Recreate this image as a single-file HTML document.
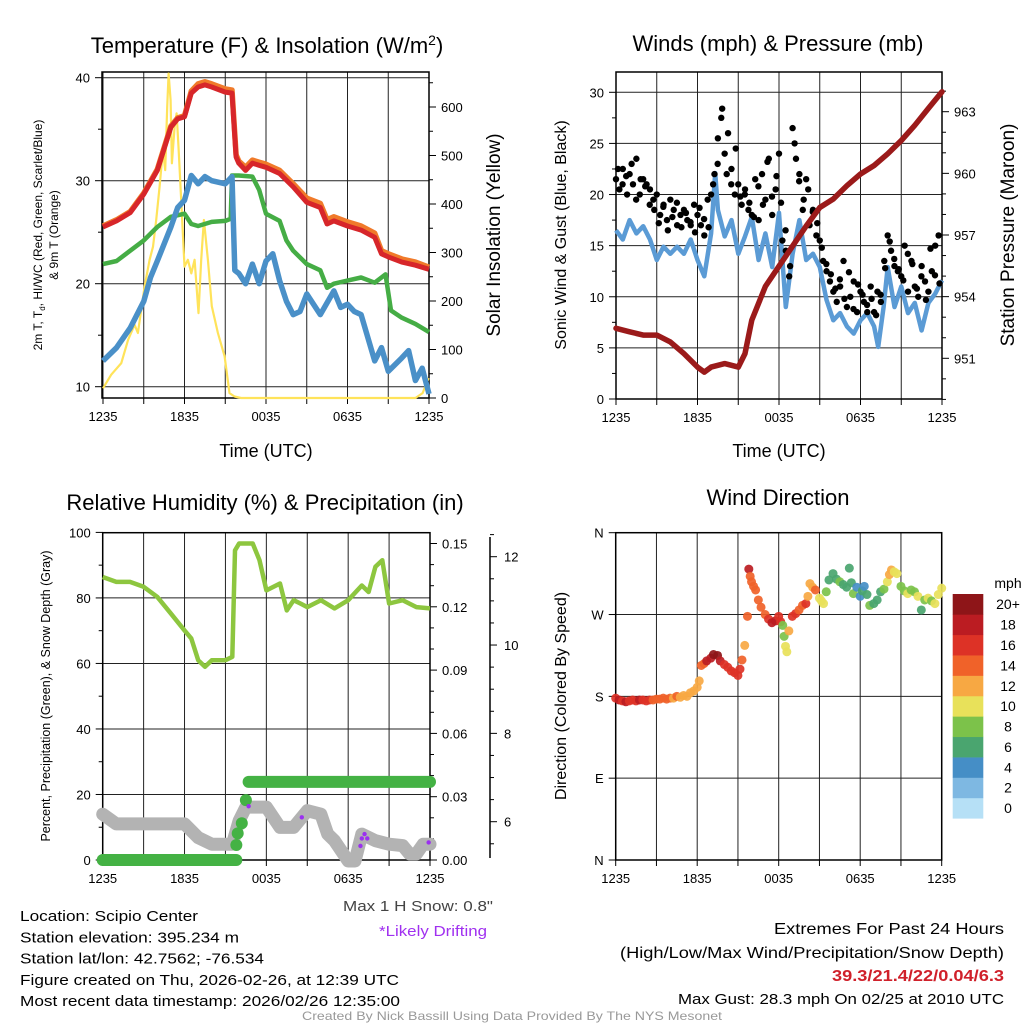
<!DOCTYPE html>
<html><head><meta charset="utf-8"><title>Mesonet Station Summary</title>
<style>
html,body{margin:0;padding:0;background:#fff;}
svg{display:block;font-family:"Liberation Sans",sans-serif;}
</style></head>
<body>
<svg id="chart" width="1024" height="1024" viewBox="0 0 1024 1024" xmlns="http://www.w3.org/2000/svg"></svg>
<script>
// ---------- DATA ----------
const timeLabels = ["1235","1835","0035","0635","1235"];
const tempHours = [0,1,2,3,4,5,5.5,6,6.5,7,7.5,8,9,9.5,9.8,10,10.5,11,11.5,12,13,14,15,16,16.5,17,18,19,20,20.5,21,22,23,24];
const tempRed =   [25.5,26.1,26.9,28.7,31.0,35.2,36.0,36.2,38.5,39.1,39.3,39.1,38.6,38.5,32.3,31.7,31.0,31.7,31.5,31.3,30.7,29.4,27.9,27.4,25.8,26.1,25.6,25.2,24.5,22.9,22.6,22.1,21.8,21.4];
const temp9m =    [25.6,26.2,27.0,28.8,31.1,35.3,36.1,36.3,38.7,39.4,39.6,39.4,38.9,38.8,32.5,31.9,31.3,32.0,31.8,31.6,31.0,29.7,28.3,27.8,26.2,26.5,26.0,25.6,24.9,23.2,22.9,22.4,22.1,21.6];
const dewHours = [0,1,2,3,4,5,6,6.5,7,8,9,9.4,9.5,10,11,11.5,12,13,13.5,14,15,16,16.5,17,18,19,20,20.8,21.2,22,23,24];
const dewGreen = [21.9,22.2,23.2,24.2,25.5,26.5,26.8,25.8,25.6,26.0,26.1,26.3,30.5,30.5,30.4,29.1,26.8,26.1,24.2,23.2,21.9,21.3,19.6,20.0,20.3,20.6,20.1,20.9,17.4,16.7,16.1,15.3];
const wcHours = [0,1,2,3,3.5,4,5,5.5,6,6.5,7,7.5,8,9,9.5,9.7,10,10.5,11,11.5,12,12.5,13,13.5,14,14.5,15,15.5,16,17,17.5,18,18.5,19,20,20.5,21,22,22.5,23,23.5,24];
const wcBlue =  [12.5,13.8,15.7,18.3,20.6,22.2,25.5,27.4,28.1,30.5,29.7,30.4,30.0,29.7,30.4,21.3,21.0,20.0,21.9,20.0,22.2,22.9,20.3,18.3,17.0,17.3,19.0,18.0,17.0,19.3,17.7,18.0,17.3,17.0,12.5,13.8,11.5,12.8,13.5,10.6,11.8,9.3];
const solarHours = [0,0.6,1.35,1.85,2.33,2.57,3.06,3.43,3.68,3.92,4.17,4.41,4.58,4.73,4.83,4.98,5.07,5.27,5.42,5.56,5.76,6.0,6.25,6.5,6.74,7.03,7.23,7.43,7.72,8.01,8.46,8.95,9.31,9.68,10.17,23.0,23.53,23.97];
const solarW =     [20,48,72,120,151,134,230,285,312,367,436,511,470,600,669,614,484,559,587,518,408,271,285,257,285,175,285,367,285,189,134,86,10,3,0,0,10,41];
const windHours = [0,0.5,1,1.5,2,2.5,3,3.5,4,4.5,5,5.5,6,6.5,7,7.3,7.5,8,8.5,9,9.5,10,10.5,11,11.5,12,12.5,13,13.5,14,14.5,15,15.5,16,16.5,17,17.5,18,18.5,19,19.3,19.7,20,20.5,21,21.5,22,22.5,23,23.5,24];
const windBlue =  [16.5,15.6,17.5,16.2,16.9,15.6,13.6,14.9,14.2,14.9,14.2,15.6,13.6,12.0,16.2,22.1,18.5,15.9,17.5,14.2,15.9,17.8,13.6,16.2,12.9,18.2,9.0,14.2,17.5,13.6,14.2,12.9,9.7,7.7,8.4,7.1,6.4,7.7,8.4,7.1,5.1,9.0,12.9,9.0,11.0,8.4,9.4,6.7,9.4,10.3,11.6];
const gustMph = [21.5,20.5,22.5,21.8,22,21,23.5,20,21.5,21,20.5,19.5,20,18,19,17.5,19.5,18.5,17,18,18.5,17.5,17,19,18,17,16,19.5,20,22,25.5,27.5,24,26,22.5,20,21,19,20.5,18.5,18,21.5,17.5,22,19.5,23.5,18,20.5,24,15.5,14.5,12,26.5,23.5,22,18.5,21.5,17,18.5,16,15.5,13.5,12.5,11.5,10.5,9.5,11,13.5,9,10,11.5,8.5,10.5,9.5,8.5,11,8.5,10.5,9.5,13.5,16,14.5,13,12.5,12,15,10.5,13.5,11,10,13,11.5,10.5,12.5,15,16];
const gustMph2 = [22.5,21,20,23,19.5,21.5,20.8,19,18.5,17.2,18.8,16.5,17.8,19.2,16.8,18.2,17.3,16.3,18.7,17.6,16.8,21,23,28.4,22,21,24.5,19.8,20,19.2,17.8,20.8,19,23.2,19.8,21.8,19.2,16.5,13,25,21.3,19.5,20.5,18.3,17.2,14.8,13.2,12.2,10.8,11.7,9.8,12.4,8.8,11.2,10.2,9.2,9.8,8.2,10.2,12.8,15.4,13.7,12.7,11.6,14.2,13.2,10.8,12,9.7,14.7,12.1,11.3];
const pressHours = [0,1,2,3,4,5,6,6.5,7,8,9,9.5,10,11,12,13,14,15,16,17,18,19,20,21,22,23,24];
const pressMb = [952.46,952.29,952.13,952.13,951.8,951.23,950.57,950.33,950.57,950.74,950.57,951.23,952.86,954.5,955.48,956.46,957.44,958.34,958.75,959.4,959.97,960.38,960.95,961.6,962.34,963.16,963.97];
const rhHours = [0,1,2,3,4,5,6,6.5,7,7.5,8,9,9.5,9.7,10,11,11.5,12,13,13.5,14,14.5,15,16,17,18,19,19.5,20,20.5,21,22,23,24];
const rhPct =   [86.4,84.9,84.9,83.4,80.3,75.2,70.1,67.6,61,59,61,61,62,94.5,96.6,96.6,91.5,82.3,84.4,76.2,79.3,78.3,77.2,79.3,76.8,79.3,83.8,81.8,89.5,91.5,78.3,79.3,77.2,76.8];
const snowHours = [0,1,2,3,4,5,6,7,8,9,9.5,10,10.5,12,13,14,15,16,16.5,17,18,18.5,19,20,21,22,22.5,23,23.5,24];
const snowIn =    [6.17,5.95,5.95,5.95,5.95,5.95,5.95,5.64,5.49,5.49,5.49,6.02,6.33,6.33,5.87,5.87,6.25,6.17,5.72,5.57,5.11,5.11,5.72,5.57,5.49,5.46,5.27,5.27,5.49,5.49];
const precipHours = [0,9.8,9.8,9.9,10.2,10.5,24];
const precipIn =    [0,0,0.0071,0.0126,0.0174,0.0284,0.037];
const driftHours = [10.7,14.6,19.0,19.2,19.4,18.9,23.9];
const driftIn =    [6.35,6.1,5.62,5.72,5.62,5.45,5.53];
const dirHours = [0,0.25,0.5,0.75,1,1.25,1.5,1.75,2,2.25,2.5,2.75,3,3.25,3.5,3.75,4,4.25,4.5,4.75,5,5.25,5.5,5.75,6,6.15,6.3,6.5,6.7,7,7.2,7.5,7.7,8,8.25,8.5,8.75,9,9.15,9.3,9.5,9.7,9.8,9.9,10,10.15,10.3,10.5,10.7,11,11.25,11.5,11.75,12,12.15,12.3,12.4,12.5,12.6,12.75,13,13.25,13.5,13.75,14,14.15,14.3,14.5,14.7,15,15.15,15.3,15.5,15.7,16,16.25,16.5,16.75,17,17.2,17.35,17.5,17.75,18,18.15,18.3,18.5,18.7,19,19.25,19.5,19.75,20,20.15,20.3,20.5,20.7,21,21.25,21.5,21.75,22,22.25,22.5,22.75,23,23.25,23.5,23.75,24];
const dirDeg =   [178,176,175,174,175,176,175,176,176,175,176,176,177,177,178,177,178,178,180,179,181,180,184,186,190,197,214,216,219,222,226,225,219,215,212,208,206,203,210,220,236,268,320,312,306,301,297,286,278,270,265,261,263,268,262,258,246,235,229,252,268,271,275,280,282,290,304,300,297,288,285,282,295,308,315,309,306,303,300,321,305,293,300,290,296,301,292,280,282,286,295,298,306,314,319,317,315,301,296,293,297,295,290,275,286,288,285,282,292,299];
const dirSpeed = [17,18,17,18,17,16,17,18,17,16,16,15,15,14,14,14,15,13,14,13,13,12,12,13,12,12,14,15,18,19,20,21,18,17,16,17,16,17,16,14,12,14,18,14,14,15,14,14,15,14,17,18,18,16,16,8,9,10,11,12,16,16,14,15,16,13,12,13,14,10,10,10,9,7,6,7,8,6,6,6,6,8,5,4,6,4,6,8,6,7,6,8,10,12,12,11,10,8,9,10,8,9,10,6,8,10,9,10,10,10];
const speedBinLabels = ["0","2","4","6","8","10","12","14","16","18","20+"];
const speedBinColors = ["#b6e0f6","#7eb8e2","#458ec6","#4aa56f","#7cc24a","#e8e15a","#f7a843","#f06229","#dd3226","#bb1c22","#8e1518"];

// ---------- HELPERS ----------
const NS = "http://www.w3.org/2000/svg";
const svg = document.getElementById("chart");
function mk(tag, attrs, parent) {
  const e = document.createElementNS(NS, tag);
  for (const k in attrs) e.setAttribute(k, attrs[k]);
  (parent || svg).appendChild(e);
  return e;
}
function txt(s, attrs, parent) { const e = mk("text", attrs, parent); e.textContent = s; return e; }
function linear(d0, d1, r0, r1) { return v => r0 + (v - d0) * (r1 - r0) / (d1 - d0); }
function pathFrom(xs, ys, fx, fy) { return xs.map((h, i) => (i ? "L" : "M") + fx(h).toFixed(1) + "," + fy(ys[i]).toFixed(1)).join(""); }

function frame(g, L, R, T, B, fx) {
  for (let h = 0; h <= 24; h += 3) {
    const x = fx(h);
    const gl = mk("line", {x1:x, x2:x, y1:T, y2:B, stroke:"#222", "stroke-width":1}, g);
    
    
    mk("line", {x1:x, x2:x, y1:B, y2:B+6, stroke:"#000", "stroke-width":1}, g);
  }
  for (let i = 0; i < 5; i++) {
    const t = txt(timeLabels[i], {x:fx(i*6), y:B+23, "font-size":13, "text-anchor":"middle", fill:"#000"}, g);
    
    
  }
  const box = mk("rect", {x:L, y:T, width:R-L, height:B-T, fill:"none", stroke:"#000", "stroke-width":1.5}, g);
  
  
}
function hGrid(g, L, R, y) {
  const l = mk("line", {x1:L, x2:R, y1:y, y2:y, stroke:"#222", "stroke-width":1}, g);
  
  
}
function leftTicks(g, x, vals, fy, labelFn, minor) {
  vals.forEach(v => {
    mk("line", {x1:x-7, x2:x, y1:fy(v), y2:fy(v), stroke:"#000"}, g);
    const t = txt(labelFn(v), {x:x-12, y:fy(v)+5, "font-size":13, "text-anchor":"end"}, g);
    
    
  });
  (minor||[]).forEach(v => mk("line", {x1:x-4, x2:x, y1:fy(v), y2:fy(v), stroke:"#000"}, g));
}
function rightTicks(g, x, vals, fy, labelFn, minor, lx) {
  vals.forEach(v => {
    mk("line", {x1:x, x2:x+7, y1:fy(v), y2:fy(v), stroke:"#000"}, g);
    const t = txt(labelFn(v), {x:x+(lx||12), y:fy(v)+5, "font-size":13}, g);
    
    
  });
  (minor||[]).forEach(v => mk("line", {x1:x, x2:x+4, y1:fy(v), y2:fy(v), stroke:"#000"}, g));
}
function range(a, b, s) { const r = []; for (let v = a; v <= b + 1e-9; v += s) r.push(+v.toFixed(4)); return r; }

// ---------- PANEL 1 ----------
(function(){
  const g = mk("g", {});
  
  
  const L=102, R=429, T=72, B=398;
  const fx = linear(0, 24, 103, 429);
  const fy = linear(10, 40, 386.7, 77.7);
  const fs = linear(0, 600, 398, 107);
  [10,20,30,40].forEach(v => hGrid(g, L, R, fy(v)));
  frame(g, L, R, T, B, fx);
  leftTicks(g, L, [10,20,30,40], fy, v=>String(v), [15,25,35]);
  rightTicks(g, R, range(0,600,100), fs, v=>String(v), range(50,650,100));
  const sol = mk("path", {d:pathFrom(solarHours, solarW, fx, fs), fill:"none", stroke:"#ffe35a", "stroke-width":2.2, "stroke-linejoin":"round"}, g);
  
  
  const gr = mk("path", {d:pathFrom(dewHours, dewGreen, fx, fy), fill:"none", stroke:"#45ad45", "stroke-width":4.5, "stroke-linejoin":"round"}, g);
  
  
  const bl = mk("path", {d:pathFrom(wcHours, wcBlue, fx, fy), fill:"none", stroke:"#4a90c8", "stroke-width":5.5, "stroke-linejoin":"round"}, g);
  
  
  const or = mk("path", {d:pathFrom(tempHours, temp9m, fx, fy), fill:"none", stroke:"#f07a2a", "stroke-width":5.5, "stroke-linejoin":"round"}, g);
  
  
  const rd = mk("path", {d:pathFrom(tempHours, tempRed, fx, fy), fill:"none", stroke:"#d7262a", "stroke-width":5, "stroke-linejoin":"round"}, g);
  
  
})();

// ---------- PANEL 2 ----------
(function(){
  const g = mk("g", {});
  
  
  const L=616, R=942, T=72, B=399;
  const fx = linear(0, 24, 616, 942);
  const fy = linear(0, 30, 399, 92.3);
  const fp = linear(951, 963, 358.3, 111.7);
  range(5,30,5).forEach(v => hGrid(g, L, R, fy(v)));
  frame(g, L, R, T, B, fx);
  leftTicks(g, L, range(0,30,5), fy, v=>String(v), [2.5,7.5,12.5,17.5,22.5,27.5]);
  rightTicks(g, R, [951,954,957,960,963], fp, v=>String(v), [949,950,952,953,955,956,958,959,961,962,964]);
  const bl = mk("path", {d:pathFrom(windHours, windBlue, fx, fy), fill:"none", stroke:"#5b9bd5", "stroke-width":4.5, "stroke-linejoin":"round"}, g);
  
  
  gustMph.forEach((v, i) => {
    const c = mk("circle", {cx:fx(i*0.25), cy:fy(v), r:3.2, fill:"#000"}, g);
    
    
  });
  gustMph2.forEach((v, i) => {
    const c = mk("circle", {cx:fx(i/3+0.15), cy:fy(v), r:3.2, fill:"#000"}, g);
    
    
  });
  const pr = mk("path", {d:pathFrom(pressHours, pressMb, fx, fp), fill:"none", stroke:"#9b1a1a", "stroke-width":5.5, "stroke-linejoin":"round", "stroke-linecap":"round"}, g);
  
  
})();

// ---------- PANEL 3 ----------
(function(){
  const g = mk("g", {});
  
  
  const L=102.7, R=430, T=532.7, B=860;
  const fx = linear(0, 24, 102.7, 430);
  const fy = linear(0, 100, 860, 532.4);
  const fpr = linear(0, 0.03, 860, 796.7);
  const fsn = linear(6, 12, 821.7, 556.7);
  range(20,80,20).forEach(v => hGrid(g, L, R, fy(v)));
  frame(g, L, R, T, B, fx);
  leftTicks(g, L, range(0,100,20), fy, v=>String(v), range(10,90,20));
  rightTicks(g, R, range(0,0.15,0.03), fpr, v=>v.toFixed(2), range(0.01,0.15,0.01).filter(v=>Math.round(v*100)%3));
  const ax = mk("line", {x1:490, x2:490, y1:537, y2:858, stroke:"#000", "stroke-width":1.5}, g);
  
  
  rightTicks(g, 490, [6,8,10,12], fsn, v=>String(v), range(5.5,12.5,0.5).filter(v=>v%2), 14);
  const rh = mk("path", {d:pathFrom(rhHours, rhPct, fx, fy), fill:"none", stroke:"#8dc63f", "stroke-width":4.5, "stroke-linejoin":"round"}, g);
  
  
  const sn = mk("path", {d:pathFrom(snowHours, snowIn, fx, fsn), fill:"none", stroke:"#b3b3b3", "stroke-width":13, "stroke-linejoin":"round", "stroke-linecap":"round"}, g);
  
  
  const p0 = mk("path", {d:pathFrom(precipHours.slice(0,2), precipIn.slice(0,2), fx, fpr), fill:"none", stroke:"#44b244", "stroke-width":12, "stroke-linecap":"round"}, g);
  
  
  precipHours.slice(2,6).forEach((h, i) => {
    const c = mk("circle", {cx:fx(h), cy:fpr(precipIn[i+2]), r:6, fill:"#44b244"}, g);
    
    
  });
  const p1 = mk("path", {d:pathFrom([10.7,24], [precipIn[6],precipIn[6]], fx, fpr), fill:"none", stroke:"#44b244", "stroke-width":12, "stroke-linecap":"round"}, g);
  
  
  driftHours.forEach((h, i) => {
    const c = mk("circle", {cx:fx(h), cy:fsn(driftIn[i]), r:2.2, fill:"#9b30f0"}, g);
    
    
  });
})();

// ---------- PANEL 4 ----------
(function(){
  const g = mk("g", {});
  
  
  const L=615.7, R=941.7, T=532.7, B=860;
  const fx = linear(0, 24, 615.7, 941.7);
  const fd = linear(0, 360, 860, 532.7);
  [90,180,270].forEach(v => hGrid(g, L, R, fd(v)));
  frame(g, L, R, T, B, fx);
  leftTicks(g, L, [0,90,180,270,360], fd, v=>["N","E","S","W","N"][v/90], []);
  dirHours.forEach((h, i) => {
    const bin = Math.min(10, Math.floor(dirSpeed[i]/2));
    const c = mk("circle", {cx:fx(h), cy:fd(dirDeg[i]), r:4.5, fill:speedBinColors[bin], "fill-opacity":0.92}, g);
    
    
  });
  const cb = mk("g", {}, g);
  
  
  const h = (818.3-594)/11;
  speedBinColors.forEach((col, i) => {
    const y = 818.3 - (i+1)*h;
    const r = mk("rect", {x:952.7, y:y, width:30.6, height:h+0.3, fill:col}, cb);
    
    
    const t = txt(speedBinLabels[i], {x:1008, y:y+h/2+5, "font-size":14, "text-anchor":"middle"}, cb);
    
    
  });
  const u = txt("mph", {x:1008, y:588, "font-size":14, "text-anchor":"middle"}, cb);
  
  
})();

// ---------- TITLES / LABELS ----------
function label(s, attrs, name) {
  const t = txt(s, attrs);
  
  
  return t;
}
const t1 = label("", {x:267, y:53, "font-size":22, "text-anchor":"middle"}, "temperature-title");
t1.innerHTML = 'Temperature (F) &amp; Insolation (W/m<tspan dy="-8" font-size="14">2</tspan><tspan dy="8">)</tspan>';
label("Winds (mph) & Pressure (mb)", {x:778, y:51, "font-size":22, "text-anchor":"middle"}, "winds-title");
label("Relative Humidity (%) & Precipitation (in)", {x:265, y:510, "font-size":22, "text-anchor":"middle"}, "humidity-title");
label("Wind Direction", {x:778, y:505, "font-size":22, "text-anchor":"middle"}, "wind-direction-title");
label("Time (UTC)", {x:266, y:457, "font-size":18, "text-anchor":"middle"}, "x-axis-title");
label("Time (UTC)", {x:779, y:457, "font-size":18, "text-anchor":"middle"}, "x-axis-title");
const y1 = label("", {x:0, y:0, "font-size":12, "text-anchor":"middle", transform:"translate(42,235) rotate(-90)"}, "temperature-y-axis-title");
y1.innerHTML = '2m T, T<tspan dy="3" font-size="8">d</tspan><tspan dy="-3">, HI/WC (Red, Green, Scarlet/Blue)</tspan>';
label("& 9m T (Orange)", {x:0, y:0, "font-size":12, "text-anchor":"middle", transform:"translate(58,235) rotate(-90)"}, "temperature-y-axis-title-line2");
label("Solar Insolation (Yellow)", {x:0, y:0, "font-size":19, "text-anchor":"middle", transform:"translate(500,235) rotate(-90)"}, "solar-axis-title");
label("Sonic Wind & Gust (Blue, Black)", {x:0, y:0, "font-size":16, "text-anchor":"middle", transform:"translate(566,235) rotate(-90)"}, "wind-axis-title");
label("Station Pressure (Maroon)", {x:0, y:0, "font-size":19, "text-anchor":"middle", transform:"translate(1014,235) rotate(-90)"}, "pressure-axis-title");
label("Percent, Precipitation (Green), & Snow Depth (Gray)", {x:0, y:0, "font-size":12.5, "text-anchor":"middle", transform:"translate(50,696) rotate(-90)"}, "humidity-y-axis-title");
label("Direction (Colored By Speed)", {x:0, y:0, "font-size":16, "text-anchor":"middle", transform:"translate(566,696) rotate(-90)"}, "direction-axis-title");

// ---------- FOOTER TEXT ----------
const leftLines = ["Location: Scipio Center","Station elevation: 395.234 m","Station lat/lon: 42.7562; -76.534","Figure created on Thu, 2026-02-26, at 12:39 UTC","Most recent data timestamp: 2026/02/26 12:35:00"];
const leftWidths = [178,219,244,379,380];
leftLines.forEach((s, i) => {
  const t = txt(s, {x:20, y:921+i*21.3, "font-size":15, textLength:leftWidths[i], lengthAdjust:"spacingAndGlyphs"});
  
  
});
label('Max 1 H Snow: 0.8"', {x:493, y:911, "font-size":15, "text-anchor":"end", fill:"#444", textLength:150, lengthAdjust:"spacingAndGlyphs"}, "max-snow-note");
label("*Likely Drifting", {x:487, y:936, "font-size":15, "text-anchor":"end", fill:"#a030f0", textLength:108, lengthAdjust:"spacingAndGlyphs"}, "drifting-note");
label("Extremes For Past 24 Hours", {x:1004, y:934, "font-size":16, "text-anchor":"end", textLength:230, lengthAdjust:"spacingAndGlyphs"}, "extremes-title");
label("(High/Low/Max Wind/Precipitation/Snow Depth)", {x:1004, y:958, "font-size":16, "text-anchor":"end", textLength:384, lengthAdjust:"spacingAndGlyphs"}, "extremes-legend");
label("39.3/21.4/22/0.04/6.3", {x:1004, y:981, "font-size":16, "text-anchor":"end", fill:"#d0202a", "font-weight":"bold", textLength:172, lengthAdjust:"spacingAndGlyphs"}, "extremes-values");
label("Max Gust: 28.3 mph On 02/25 at 2010 UTC", {x:1004, y:1004, "font-size":15, "text-anchor":"end", textLength:326, lengthAdjust:"spacingAndGlyphs"}, "max-gust-note");
label("Created By Nick Bassill Using Data Provided By The NYS Mesonet", {x:512, y:1020, "font-size":12, "text-anchor":"middle", fill:"#999", textLength:420, lengthAdjust:"spacingAndGlyphs"}, "credit-footer");
</script>
</body></html>
